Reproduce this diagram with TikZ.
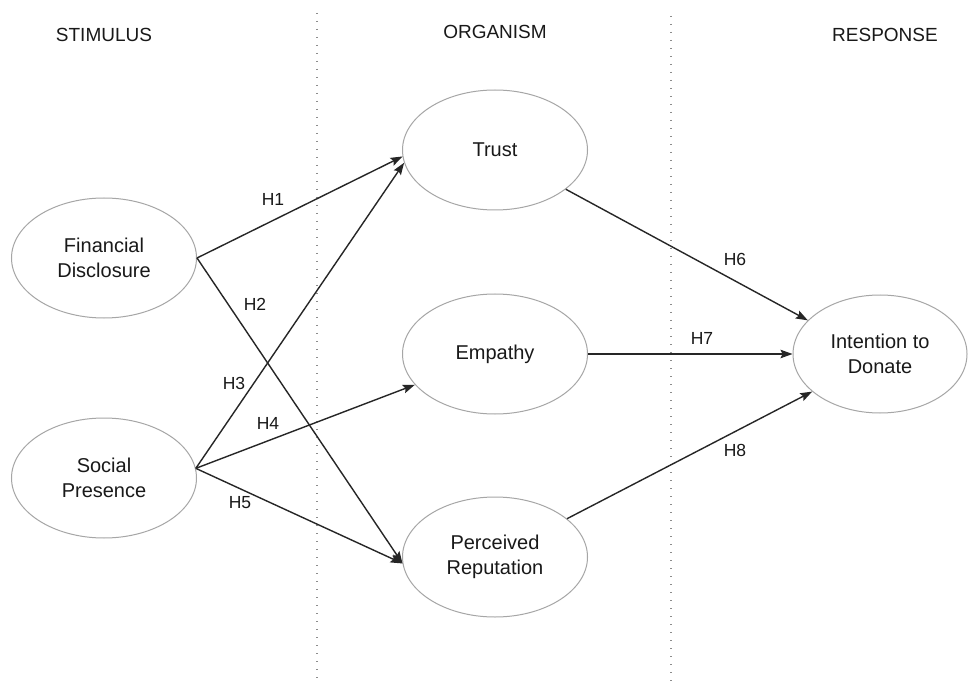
\documentclass[tikz,border=0pt]{standalone}
\usepackage{fontspec}
\setmainfont{Liberation Sans}
\usetikzlibrary{arrows.meta,shapes.geometric}
\begin{document}
\begin{tikzpicture}[x=1pt,y=-1pt,
  construct/.style={ellipse,draw=black!35,line width=1pt,minimum width=185pt,minimum height=120pt,inner sep=0pt,align=center,font=\fontsize{20}{25}\selectfont,text=black!90},
  heading/.style={font=\fontsize{19}{22}\selectfont,text=black!90},
  hyp/.style={font=\fontsize{17.5}{20}\selectfont,text=black!90},
  link/.style={draw=black!85,line width=1.4pt,-{Stealth[length=12pt,width=8.5pt,inset=2pt]}},
  divider/.style={draw=black!45,line width=1.2pt,dash pattern=on 1.2pt off 6.8pt}
]
\useasboundingbox (0,0) rectangle (968,684);
\fill[white] (0,0) rectangle (968,684);

% dividers
\coordinate (d1top) at (317,13);
\coordinate (d1bot) at (317,684);
\coordinate (d2top) at (671,16);
\coordinate (d2bot) at (671,684);
\draw[divider] (d1top) -- (d1bot);
\draw[divider] (d2top) -- (d2bot);

% headings
\node[heading] (hs) at (104,35) {STIMULUS};
\node[heading] (ho) at (495,32) {ORGANISM};
\node[heading] (hr) at (885,35) {RESPONSE};

% constructs
\node[construct] (fd) at (104,258) {Financial\\Disclosure};
\node[construct] (sp) at (104,478) {Social\\Presence};
\node[construct] (tr) at (495,150) {Trust};
\node[construct] (em) at (495,354) {Empathy};
\node[construct] (pr) at (495,557) {Perceived\\Reputation};
\node[construct,minimum width=174pt,minimum height=118pt] (id) at (880,354) {Intention to\\Donate};

% connectors
\draw[link] (fd.east) -- (tr.184);
\draw[link] (fd.east) -- (pr.184);
\draw[link] (sp.6) -- (tr.188);
\draw[link] (sp.6) -- (em.201);
\draw[link] (sp.6) -- (pr.184);
\draw[link] (tr.-29) -- (id.155);
\draw[link] (em.east) -- (id.west);
\draw[link] (pr.28) -- (id.209);

% hypothesis labels
\node[hyp] (h1) at (273,199) {H1};
\node[hyp] (h2) at (255,304) {H2};
\node[hyp] (h3) at (234,383) {H3};
\node[hyp] (h4) at (268,423) {H4};
\node[hyp] (h5) at (240,503) {H5};
\node[hyp] (h6) at (735,259) {H6};
\node[hyp] (h7) at (702,338) {H7};
\node[hyp] (h8) at (735,450) {H8};
\end{tikzpicture}
\end{document}
